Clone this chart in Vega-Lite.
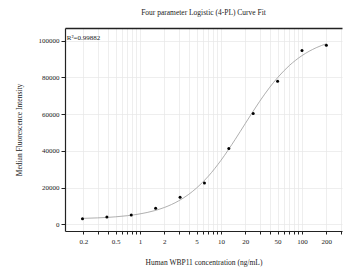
{
  "$schema": "https://vega.github.io/schema/vega-lite/v6.json",
  "width": 277,
  "height": 203,
  "autosize": {"type": "none"},
  "padding": {"left": 65, "top": 28, "right": 1, "bottom": 44},
  "background": "white",
  "config": {
    "font": "Liberation Serif",
    "view": {"stroke": null},
    "axis": {"labelFont": "Liberation Serif", "titleFont": "Liberation Serif", "labelFontSize": 7, "titleFontSize": 7.5, "titleFontWeight": "normal", "labelColor": "#222", "titleColor": "#222", "domainColor": "#222", "tickColor": "#222", "gridColor": "#e6e6e6", "gridWidth": 0.7}
  },
  "title": {"text": "Four parameter Logistic (4-PL) Curve Fit", "fontSize": 7.5, "fontWeight": "normal", "font": "Liberation Serif", "color": "#222", "offset": 12, "anchor": "middle"},
  "datasets": {
    "points": [
      {"conc": 0.195, "mfi": 3050},
      {"conc": 0.39, "mfi": 3980},
      {"conc": 0.78, "mfi": 5070},
      {"conc": 1.56, "mfi": 8700},
      {"conc": 3.125, "mfi": 14700},
      {"conc": 6.25, "mfi": 22500},
      {"conc": 12.5, "mfi": 41300},
      {"conc": 25, "mfi": 60300},
      {"conc": 50, "mfi": 77900},
      {"conc": 100, "mfi": 94700},
      {"conc": 200, "mfi": 97500}
    ],
    "curve": [
      {"conc": 0.195, "mfi": 3220},
      {"conc": 0.3, "mfi": 3490},
      {"conc": 0.5, "mfi": 4070},
      {"conc": 0.7, "mfi": 4690},
      {"conc": 1, "mfi": 5670},
      {"conc": 1.5, "mfi": 7390},
      {"conc": 2, "mfi": 9160},
      {"conc": 3, "mfi": 12760},
      {"conc": 4, "mfi": 16320},
      {"conc": 5, "mfi": 19770},
      {"conc": 7, "mfi": 26250},
      {"conc": 10, "mfi": 34830},
      {"conc": 15, "mfi": 46270},
      {"conc": 20, "mfi": 54930},
      {"conc": 30, "mfi": 66930},
      {"conc": 40, "mfi": 74610},
      {"conc": 50, "mfi": 79860},
      {"conc": 70, "mfi": 86500},
      {"conc": 100, "mfi": 91860},
      {"conc": 150, "mfi": 96170},
      {"conc": 200, "mfi": 98330}
    ],
    "label": [{"conc": 0.125, "mfi": 101500, "text": "R²=0.99882"}]
  },
  "layer": [
    {
      "data": {"name": "curve"},
      "mark": {"type": "line", "color": "#9a9a9a", "strokeWidth": 0.8, "interpolate": "monotone"},
      "encoding": {
        "x": {"field": "conc", "type": "quantitative",
          "scale": {"type": "log", "domain": [0.1186, 312], "nice": false},
          "axis": {"orient": "bottom", "title": "Human WBP11 concentration (ng/mL)", "titlePadding": 14,
            "values": [0.2,0.3,0.4,0.5,0.6,0.7,0.8,0.9,1,2,3,4,5,6,7,8,9,10,20,30,40,50,60,70,80,90,100,200,300],
            "format": "~g",
            "labelExpr": "indexof([0.2,0.5,1,2,5,10,20,50,100,200], datum.value) >= 0 ? datum.label : ''",
            "tickSize": 3, "labelPadding": 3, "domainWidth": 1.2, "labelFlush": false}},
        "y": {"field": "mfi", "type": "quantitative",
          "scale": {"domain": [-3650, 106900], "nice": false, "zero": false},
          "axis": {"title": "Median Fluorescence Intensity", "titlePadding": 15,
            "values": [0,10000,20000,30000,40000,50000,60000,70000,80000,90000,100000],
            "format": "d",
            "labelExpr": "datum.value % 20000 == 0 ? datum.label : ''",
            "tickSize": 4, "labelPadding": 2, "domainWidth": 1.2}}
      }
    },
    {
      "data": {"name": "points"},
      "mark": {"type": "circle", "color": "black", "size": 9, "opacity": 1},
      "encoding": {
        "x": {"field": "conc", "type": "quantitative",
          "axis": {"orient": "top", "title": null, "labels": false, "ticks": false, "grid": false, "domainWidth": 1.5, "domainColor": "#222"}},
        "y": {"field": "mfi", "type": "quantitative"}
      }
    },
    {
      "data": {"name": "label"},
      "mark": {"type": "text", "align": "left", "baseline": "middle", "fontSize": 7, "font": "Liberation Serif", "color": "#222"},
      "encoding": {
        "x": {"field": "conc", "type": "quantitative", "axis": null},
        "y": {"field": "mfi", "type": "quantitative"},
        "text": {"field": "text"}
      }
    }
  ],
  "resolve": {"axis": {"x": "independent"}}
}
